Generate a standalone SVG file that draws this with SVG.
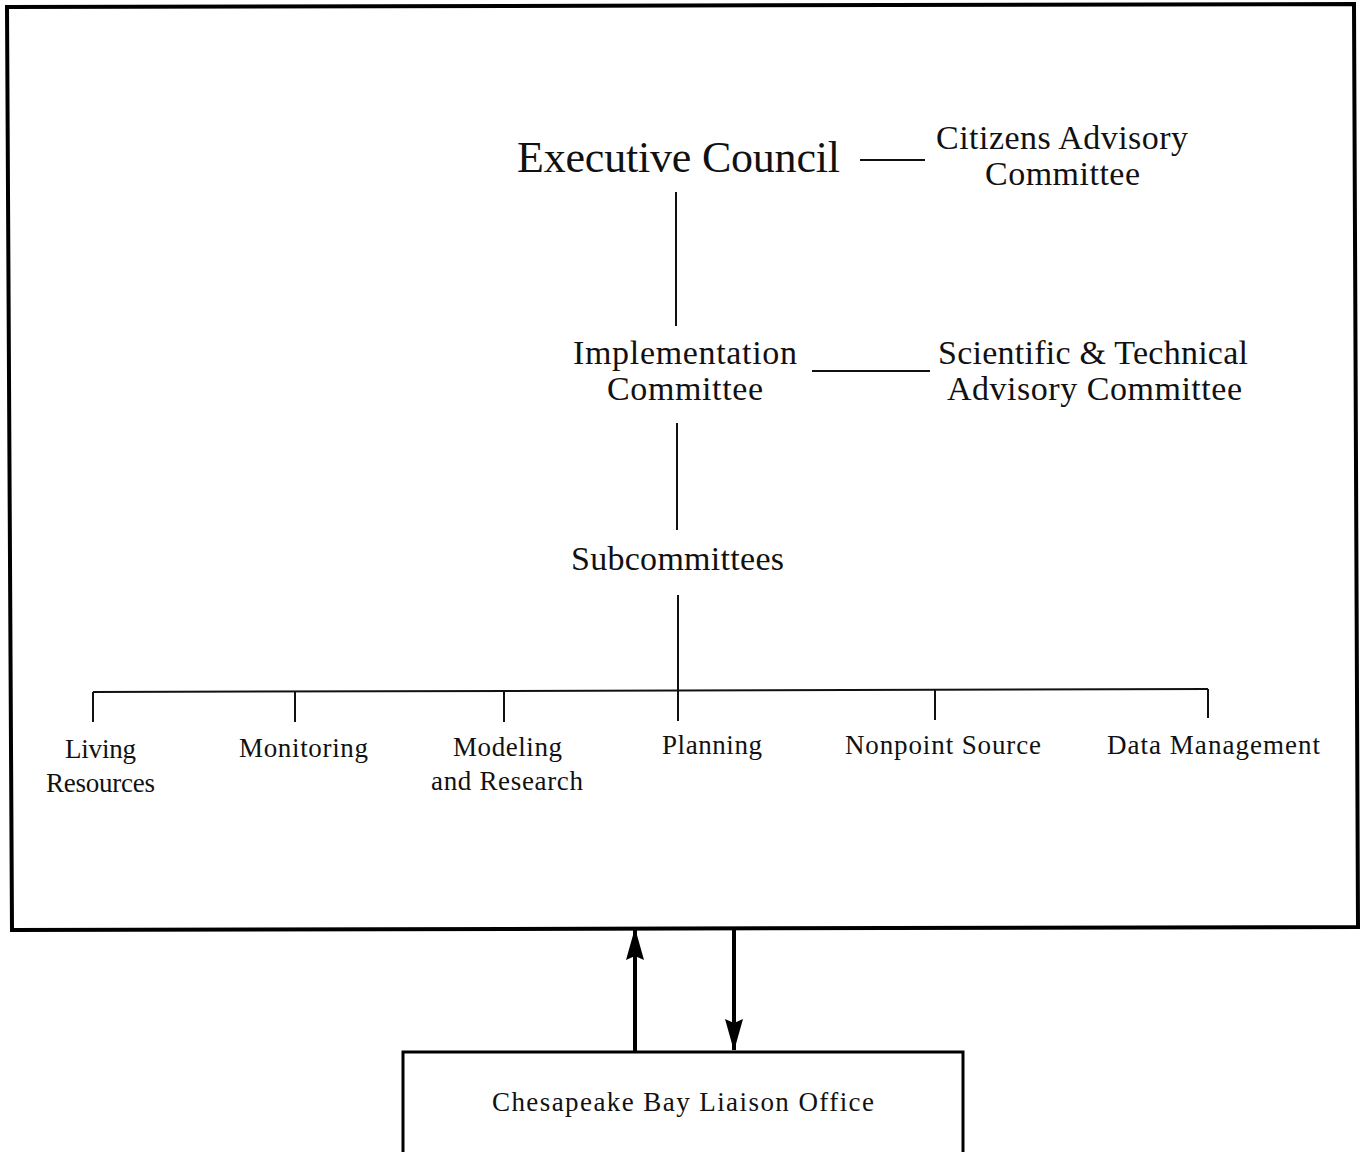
<svg xmlns="http://www.w3.org/2000/svg" width="1366" height="1152" viewBox="0 0 1366 1152">
<style>
text{font-family:"Liberation Serif","Times New Roman",serif;fill:#111}
.xl{font-size:44px}
.lg{font-size:34px}
.sm{font-size:27px}
.bx{font-size:27px}
.ln{stroke:#111;stroke-width:2;fill:none}
.thick{stroke:#000;stroke-width:4;fill:none}
.arr{stroke:#000;stroke-width:4}
</style>
<defs>
<marker id="ah" viewBox="0 0 32 18" refX="31" refY="9" markerWidth="32" markerHeight="18" markerUnits="userSpaceOnUse" orient="auto">
<path d="M0,0 L32,9 L0,18 L4,9 Z" fill="#000"/>
</marker>
</defs>
<rect width="1366" height="1152" fill="#fff"/>
<g id="frame">
<polygon class="thick" points="7,7 1354,4 1358,927 12,930"/>
</g>
<g id="connectors">
<line class="ln" x1="860" y1="160" x2="925" y2="160"/>
<line class="ln" x1="676" y1="192" x2="676" y2="326"/>
<line class="ln" x1="812" y1="371" x2="930" y2="371"/>
<line class="ln" x1="677" y1="423" x2="677" y2="530"/>
<line class="ln" x1="678" y1="595" x2="678" y2="721"/>
<line class="ln" x1="93" y1="692" x2="1208" y2="689"/>
<line class="ln" x1="93" y1="692" x2="93" y2="722"/>
<line class="ln" x1="295" y1="692" x2="295" y2="722"/>
<line class="ln" x1="504" y1="691" x2="504" y2="722"/>
<line class="ln" x1="935" y1="690" x2="935" y2="720"/>
<line class="ln" x1="1208" y1="689" x2="1208" y2="718"/>
<line class="arr" x1="635" y1="1051" x2="635" y2="929" marker-end="url(#ah)"/>
<line class="arr" x1="734" y1="928" x2="734" y2="1050" marker-end="url(#ah)"/>
</g>
<g id="executive-council"><text class="xl" x="517" y="172" textLength="323" lengthAdjust="spacing">Executive Council</text></g>
<g id="citizens-advisory">
<text class="lg" x="936" y="149" textLength="252" lengthAdjust="spacing">Citizens Advisory</text>
<text class="lg" x="985" y="185" textLength="155" lengthAdjust="spacing">Committee</text>
</g>
<g id="implementation-committee">
<text class="lg" x="573" y="364" textLength="224" lengthAdjust="spacing">Implementation</text>
<text class="lg" x="607" y="400" textLength="156" lengthAdjust="spacing">Committee</text>
</g>
<g id="stac">
<text class="lg" x="938" y="364" textLength="310" lengthAdjust="spacing">Scientific &amp; Technical</text>
<text class="lg" x="947" y="400" textLength="295" lengthAdjust="spacing">Advisory Committee</text>
</g>
<g id="subcommittees"><text class="lg" x="571" y="570" textLength="213" lengthAdjust="spacing">Subcommittees</text></g>
<g id="living-resources">
<text class="sm" x="65" y="758" textLength="71" lengthAdjust="spacing">Living</text>
<text class="sm" x="46" y="792" textLength="109" lengthAdjust="spacing">Resources</text>
</g>
<g id="monitoring"><text class="sm" x="239" y="757" textLength="129" lengthAdjust="spacing">Monitoring</text></g>
<g id="modeling-research">
<text class="sm" x="453" y="756" textLength="109" lengthAdjust="spacing">Modeling</text>
<text class="sm" x="431" y="790" textLength="152" lengthAdjust="spacing">and Research</text>
</g>
<g id="planning"><text class="sm" x="662" y="754" textLength="100" lengthAdjust="spacing">Planning</text></g>
<g id="nonpoint-source"><text class="sm" x="845" y="754" textLength="196" lengthAdjust="spacing">Nonpoint Source</text></g>
<g id="data-management"><text class="sm" x="1107" y="754" textLength="213" lengthAdjust="spacing">Data Management</text></g>
<g id="liaison-office">
<rect x="403" y="1052" width="560" height="110" fill="none" stroke="#000" stroke-width="3"/>
<text class="bx" x="492" y="1111" textLength="382" lengthAdjust="spacing">Chesapeake Bay Liaison Office</text>
</g>
</svg>
